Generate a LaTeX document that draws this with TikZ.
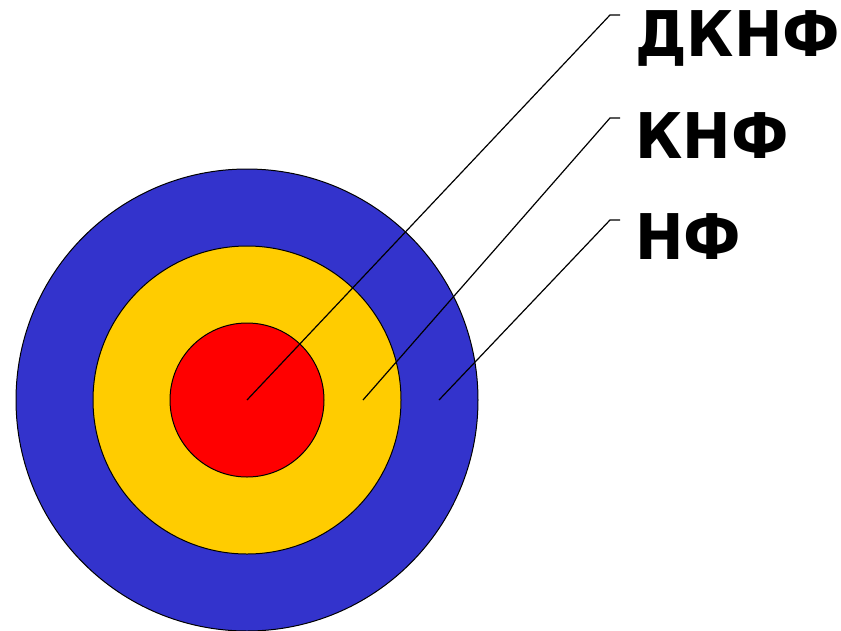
\documentclass[tikz,border=0pt]{standalone}
\usepackage{fontspec}
\newfontfamily\labfont{DejaVu Sans}
\definecolor{outerblue}{RGB}{51,51,204}
\definecolor{midyellow}{RGB}{255,204,0}
\definecolor{innerred}{RGB}{255,0,0}
\begin{document}
\begin{tikzpicture}[x=1pt,y=-1pt,
  ring/.style={draw=black,line width=1pt},
  leader/.style={draw=black,line width=1.2pt},
  lab/.style={anchor=base west,inner sep=0pt,font=\labfont\bfseries\fontsize{63}{63}\selectfont,xscale=0.92}]
\useasboundingbox (0,0) rectangle (841,630);
\fill[ring,fill=outerblue] (247,400) circle (231);
\fill[ring,fill=midyellow] (247,400) circle (154);
\fill[ring,fill=innerred] (247,400) circle (77);
\coordinate (s1) at (247,400);
\coordinate (s2) at (363,400);
\coordinate (s3) at (439,400);
\coordinate (k1) at (610,15);
\coordinate (k2) at (610,118);
\coordinate (k3) at (610,220);
\coordinate (e1) at (620,15);
\coordinate (e2) at (620,118);
\coordinate (e3) at (620,220);
\draw[leader] (s1) -- (k1) -- (e1);
\draw[leader] (s2) -- (k2) -- (e2);
\draw[leader] (s3) -- (k3) -- (e3);
\node[lab] (t1) at (635,56) {ДКНФ};
\node[lab] (t2) at (635,158) {КНФ};
\node[lab] (t3) at (635,259) {НФ};
\end{tikzpicture}
\end{document}
